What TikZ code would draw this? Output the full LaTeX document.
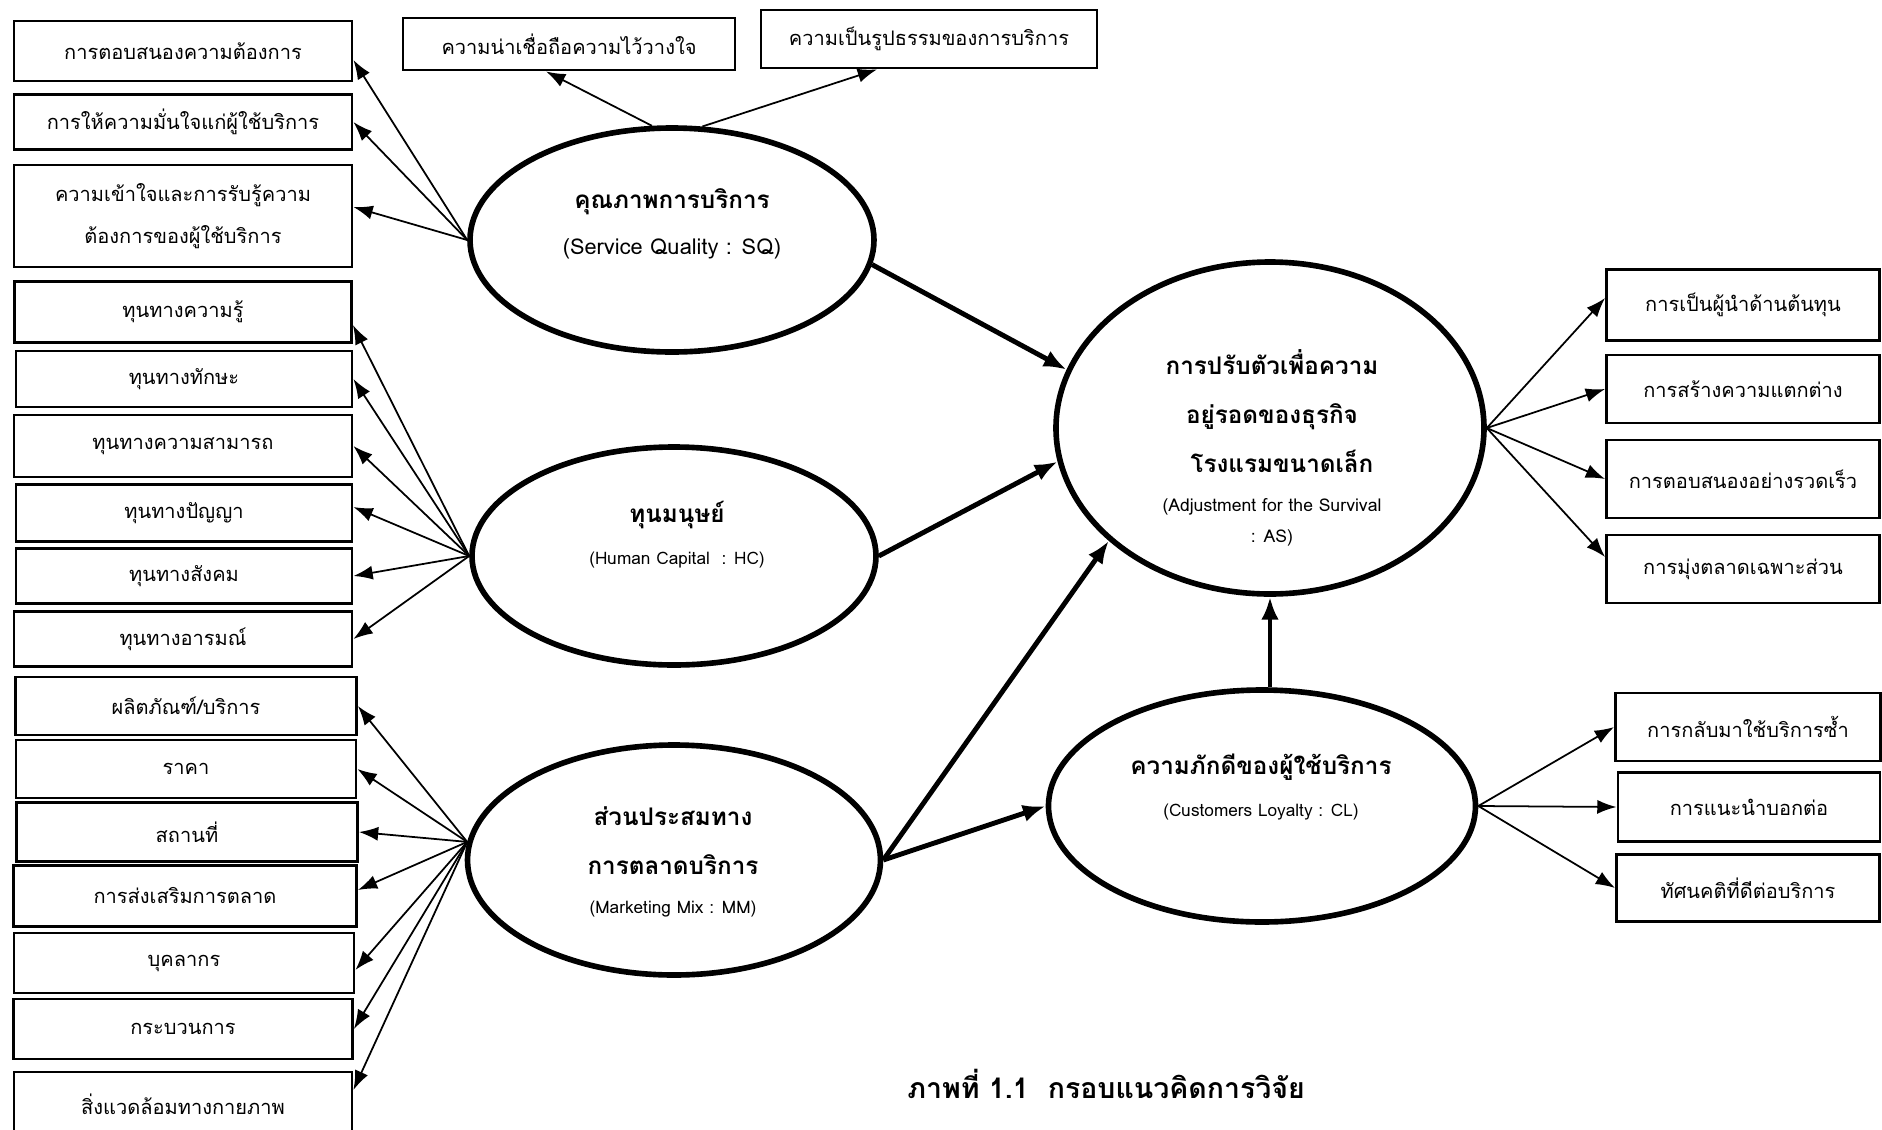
\documentclass[tikz,border=0pt]{standalone}
\usepackage{fontspec}
\setmainfont{Loma}[Script=Thai]
\usetikzlibrary{shapes.geometric,arrows.meta}

\begin{document}
\begin{tikzpicture}[x=0.1mm, y=-0.1mm, every node/.style={align=center, inner sep=0pt},
	box/.style={shape=rectangle, draw, line width=0.8pt, font=\fontsize{5.7}{12}\selectfont},
	latent/.style={shape=ellipse, draw, line width=1.6pt},
	title/.style={font=\fontsize{6.9}{14}\selectfont\bfseries},
	fan/.style={draw, -{Latex[length=5.5pt,width=4pt]}, line width=0.5pt},
	effect/.style={-{Latex[length=6.5pt,width=5pt]}, line width=1.4pt}]
	\useasboundingbox (0,0) rectangle (1882,1130);

	\node[box, minimum width=33.8mm, minimum height=6mm] (q1) at (183,51) {การตอบสนองความต้องการ};
	\node[box, minimum width=33.8mm, minimum height=5.5mm] (q2) at (183,122) {การให้ความมั่นใจแก่ผู้ใช้บริการ};
	\node[box, minimum width=33.8mm, minimum height=10.2mm] (q3) at (183,216) {ความเข้าใจและการรับรู้ความ\\ต้องการของผู้ใช้บริการ};
	\node[box, minimum width=33.2mm, minimum height=5.2mm] (q4) at (569,44) {ความน่าเชื่อถือความไว้วางใจ};
	\node[box, minimum width=33.6mm, minimum height=5.8mm] (q5) at (929,39) {ความเป็นรูปธรรมของการบริการ};

	\node[box, minimum width=33.7mm, minimum height=6.1mm] (h1) at (183,312) {ทุนทางความรู้};
	\node[box, minimum width=33.6mm, minimum height=5.6mm] (h2) at (184,379) {ทุนทางทักษะ};
	\node[box, minimum width=33.8mm, minimum height=6.2mm] (h3) at (183,446) {ทุนทางความสามารถ};
	\node[box, minimum width=33.6mm, minimum height=5.7mm] (h4) at (184,513) {ทุนทางปัญญา};
	\node[box, minimum width=33.6mm, minimum height=5.5mm] (h5) at (184,576) {ทุนทางสังคม};
	\node[box, minimum width=33.8mm, minimum height=5.5mm] (h6) at (183,639) {ทุนทางอารมณ์};

	\node[box, minimum width=34.1mm, minimum height=5.8mm] (m1) at (186,706) {ผลิตภัณฑ์/บริการ};
	\node[box, minimum width=34.0mm, minimum height=5.8mm] (m2) at (186,769) {ราคา};
	\node[box, minimum width=34.1mm, minimum height=5.9mm] (m3) at (187,832) {สถานที่};
	\node[box, minimum width=34.3mm, minimum height=6.1mm] (m4) at (185,896) {การส่งเสริมการตลาด};
	\node[box, minimum width=34.0mm, minimum height=6.0mm] (m5) at (184,963) {บุคลากร};
	\node[box, minimum width=33.9mm, minimum height=6.0mm] (m6) at (183,1029) {กระบวนการ};
	\node[box, minimum width=33.8mm, minimum height=6.4mm] (m7) at (183,1104) {สิ่งแวดล้อมทางกายภาพ};

	\node[box, minimum width=27.3mm, minimum height=7.1mm] (a1) at (1743,305) {การเป็นผู้นำด้านต้นทุน};
	\node[box, minimum width=27.3mm, minimum height=6.8mm] (a2) at (1743,389) {การสร้างความแตกต่าง};
	\node[box, minimum width=27.3mm, minimum height=7.8mm] (a3) at (1743,479) {การตอบสนองอย่างรวดเร็ว};
	\node[box, minimum width=27.3mm, minimum height=6.8mm] (a4) at (1743,569) {การมุ่งตลาดเฉพาะส่วน};

	\node[box, minimum width=26.5mm, minimum height=6.8mm] (c1) at (1748,727) {การกลับมาใช้บริการซ้ำ};
	\node[box, minimum width=26.2mm, minimum height=6.9mm] (c2) at (1749,807) {การแนะนำบอกต่อ};
	\node[box, minimum width=26.3mm, minimum height=6.7mm] (c3) at (1748,888) {ทัศนคติที่ดีต่อบริการ};

	\node[latent, minimum width=40.4mm, minimum height=22.4mm] (sq) at (672,240) {};
	\node[latent, minimum width=40.4mm, minimum height=21.8mm] (hc) at (674,556) {};
	\node[latent, minimum width=41.3mm, minimum height=23mm] (mm) at (674,860) {};
	\node[latent, minimum width=42.8mm, minimum height=33.2mm] (as) at (1270,428) {};
	\node[latent, minimum width=42.7mm, minimum height=23.2mm] (cl) at (1262,806) {};

	\node[title] (sq label) at (672,224) {คุณภาพการบริการ\\[-1pt]{\mdseries\fontsize{6.2}{8}\selectfont(Service Quality : SQ)}};
	\node[title] (hc label) at (677,535) {ทุนมนุษย์\\[-2pt]{\mdseries\fontsize{4.9}{8}\selectfont(Human Capital\ \ : HC)}};
	\node[title] (mm label) at (673,862) {ส่วนประสมทาง\\การตลาดบริการ\\[-3pt]{\mdseries\fontsize{4.9}{8}\selectfont(Marketing Mix : MM)}};
	\node[title] (as label) at (1272,448) {การปรับตัวเพื่อความ\\อยู่รอดของธุรกิจ\\\hspace*{2mm}โรงแรมขนาดเล็ก\\[-3pt]{\mdseries\fontsize{5}{8}\selectfont(Adjustment for the Survival}\\[-5pt]{\mdseries\fontsize{5}{8}\selectfont : AS)}};
	\node[title] (cl label) at (1261,787) {ความภักดีของผู้ใช้บริการ\\[-2pt]{\mdseries\fontsize{4.9}{8}\selectfont(Customers Loyalty : CL)}};

	\node[font=\fontsize{8.1}{10}\selectfont\bfseries] (caption) at (1106,1084) {ภาพที่ 1.1\ \ กรอบแนวคิดการวิจัย};

	\path (sq.west) edge[fan] ([yshift=-0.9mm]q1.east) edge[fan] (q2.east) edge[fan] ([yshift=0.9mm]q3.east);
	\path (sq.100) edge[fan] ([xshift=-2.3mm]q4.south);
	\path (sq.75) edge[fan] ([xshift=-5.2mm]q5.south);
	\path (hc.west) edge[fan] ([yshift=-1.3mm]h1.east) edge[fan] (h2.east) edge[fan] (h3.east) edge[fan] ([yshift=0.6mm]h4.east) edge[fan] (h5.east) edge[fan] (h6.east);
	\path (mm.175) edge[fan] (m1.east) edge[fan] (m2.east) edge[fan] (m3.east) edge[fan] ([yshift=0.6mm]m4.east) edge[fan] ([yshift=-0.7mm]m5.east) edge[fan] (m6.east) edge[fan] ([yshift=1.4mm]m7.east);
	\path (as.east) edge[fan] ([yshift=0.7mm]a1.west) edge[fan] (a2.west) edge[fan] (a3.west) edge[fan] ([yshift=1.2mm]a4.west);
	\path (cl.east) edge[fan] (c1.west) edge[fan] (c2.west) edge[fan] (c3.west);

	\draw[effect] (sq.-7) -- (as.164);
	\draw[effect] (hc.east) -- (as.189);
	\draw[effect] (mm.east) -- (as.215);
	\draw[effect] (mm.east) -- (cl.west);
	\draw[effect] (cl.north -| as.south) -- (as.south);
\end{tikzpicture}
\end{document}
